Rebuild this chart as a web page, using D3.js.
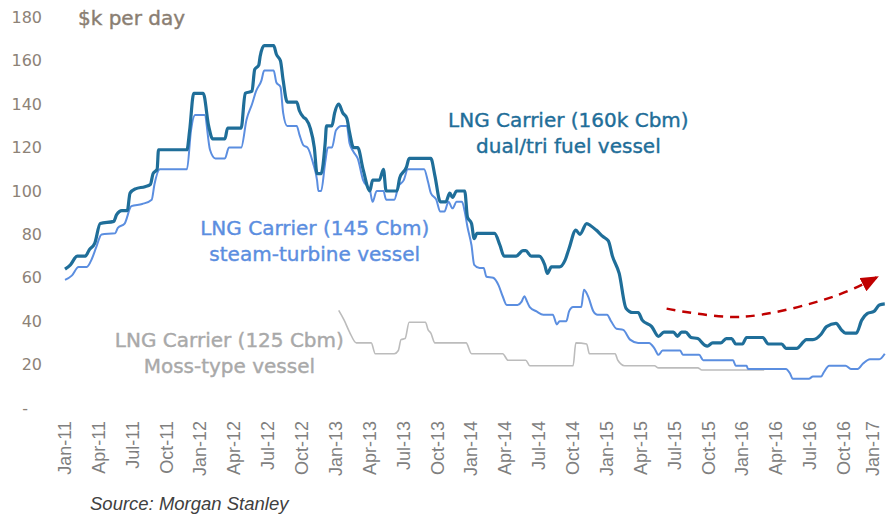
<!DOCTYPE html>
<html lang="en">
<head>
<meta charset="UTF-8">
<title>LNG Carrier day rates</title>
<style>
  body { margin: 0; background: #fff; }
  svg { display: block; }
  .ytick { font-family: "DejaVu Sans", sans-serif; font-size: 16px; fill: #8d8277; }
  .xtick { font-family: "Liberation Sans", Arial, sans-serif; font-size: 18px; fill: #7f7f7f; }
  .note { font-family: "DejaVu Sans", sans-serif; font-size: 20px; }
</style>
</head>
<body>
<svg id="chart" width="886" height="516"></svg>
<script src="https://d3js.org/d3.v7.min.js"></script>
<script>
// x = decimal year, y = $k per day
const dualFuel = [
  [2011.00, 64], [2011.04, 66], [2011.09, 70], [2011.15, 70], [2011.18, 73], [2011.22, 76],
  [2011.26, 85], [2011.36, 86], [2011.38, 89], [2011.42, 91], [2011.46, 91], [2011.48, 99],
  [2011.52, 101], [2011.59, 102], [2011.63, 103], [2011.65, 108], [2011.68, 110], [2011.69, 119],
  [2011.90, 119], [2011.92, 128], [2011.95, 145], [2012.02, 145], [2012.06, 130], [2012.09, 124],
  [2012.18, 124], [2012.20, 129], [2012.30, 129], [2012.33, 145], [2012.38, 146], [2012.40, 156],
  [2012.43, 158], [2012.44, 162], [2012.47, 167], [2012.54, 167], [2012.56, 163], [2012.59, 160],
  [2012.61, 151], [2012.64, 141], [2012.71, 141], [2012.73, 137], [2012.76, 134], [2012.78, 133],
  [2012.81, 129], [2012.84, 120], [2012.86, 108], [2012.89, 108], [2012.92, 122], [2012.93, 130],
  [2012.97, 130], [2012.99, 136], [2013.02, 140], [2013.05, 136], [2013.08, 133.5], [2013.10, 127],
  [2013.13, 120], [2013.16, 120], [2013.20, 110], [2013.25, 100], [2013.27, 105], [2013.32, 105],
  [2013.35, 110], [2013.37, 100], [2013.45, 100], [2013.47, 106], [2013.52, 111], [2013.54, 115],
  [2013.70, 115], [2013.73, 107], [2013.77, 95], [2013.81, 95], [2013.84, 99], [2013.86, 97],
  [2013.89, 100], [2013.95, 100], [2013.97, 88], [2014.00, 85], [2014.02, 78], [2014.04, 80.5],
  [2014.17, 80.5], [2014.21, 75], [2014.24, 70], [2014.33, 70], [2014.38, 72.5], [2014.40, 72.5],
  [2014.44, 70], [2014.50, 70], [2014.54, 66], [2014.56, 62], [2014.59, 65], [2014.65, 65],
  [2014.69, 68], [2014.72, 73.5], [2014.77, 82], [2014.80, 80], [2014.85, 85], [2014.88, 84],
  [2014.92, 82], [2014.97, 79], [2015.01, 77], [2015.04, 70], [2015.09, 62], [2015.14, 46],
  [2015.19, 44], [2015.23, 44], [2015.26, 40.5], [2015.33, 37.5], [2015.38, 33], [2015.42, 35],
  [2015.49, 35], [2015.52, 33], [2015.55, 35], [2015.58, 35], [2015.62, 32.5], [2015.67, 32],
  [2015.72, 29], [2015.74, 28.5], [2015.78, 30], [2015.84, 30], [2015.88, 32], [2015.92, 32],
  [2015.95, 29.5], [2016.00, 29.5], [2016.03, 32.5], [2016.15, 32.5], [2016.19, 29.5], [2016.29, 29.5],
  [2016.32, 27.5], [2016.40, 27.5], [2016.45, 30.5], [2016.47, 31.5], [2016.52, 31.5], [2016.58, 34],
  [2016.62, 37.5], [2016.69, 39], [2016.73, 36], [2016.76, 34.5], [2016.84, 34.5], [2016.88, 40.5],
  [2016.92, 43.5], [2016.97, 44.5], [2017.01, 47.5], [2017.05, 48]
];

const steamTurbine = [
  [2011.00, 59], [2011.05, 61], [2011.10, 65], [2011.16, 65], [2011.20, 69], [2011.23, 74],
  [2011.27, 80], [2011.37, 80.5], [2011.39, 83], [2011.44, 85], [2011.49, 93], [2011.57, 94],
  [2011.64, 96], [2011.66, 103], [2011.70, 110], [2011.90, 110], [2011.93, 128], [2011.96, 135],
  [2012.03, 135], [2012.07, 119], [2012.11, 115], [2012.18, 115], [2012.21, 120], [2012.30, 120],
  [2012.34, 133], [2012.38, 140], [2012.41, 146], [2012.45, 151], [2012.47, 155.5], [2012.54, 155.5],
  [2012.56, 150], [2012.59, 148], [2012.61, 136], [2012.64, 130], [2012.71, 130], [2012.73, 126],
  [2012.76, 121], [2012.79, 120], [2012.83, 113], [2012.86, 105], [2012.87, 100], [2012.89, 100],
  [2012.92, 113], [2012.94, 120], [2012.97, 120], [2013.00, 128], [2013.04, 130], [2013.08, 130],
  [2013.10, 122], [2013.13, 118], [2013.16, 115], [2013.20, 105], [2013.25, 100.5], [2013.27, 95],
  [2013.30, 100], [2013.35, 100], [2013.37, 96], [2013.43, 96], [2013.46, 102], [2013.50, 105],
  [2013.53, 110], [2013.65, 110], [2013.68, 104], [2013.70, 99], [2013.74, 96], [2013.77, 90.5],
  [2013.80, 90.5], [2013.83, 95], [2013.86, 92], [2013.89, 95], [2013.93, 95], [2013.95, 90.5],
  [2013.97, 83.5], [2014.00, 75], [2014.02, 66], [2014.06, 64.5], [2014.09, 64.5], [2014.11, 60.5],
  [2014.16, 60], [2014.20, 56.5], [2014.23, 51.5], [2014.26, 47.5], [2014.34, 47.5], [2014.37, 49],
  [2014.39, 51.5], [2014.41, 49], [2014.43, 46.5], [2014.48, 44.5], [2014.53, 43], [2014.60, 43],
  [2014.63, 38.5], [2014.65, 40], [2014.70, 40], [2014.72, 44.5], [2014.75, 46.5], [2014.81, 46.5],
  [2014.83, 54.5], [2014.86, 51.5], [2014.90, 44.5], [2014.93, 43], [2015.00, 43], [2015.03, 40],
  [2015.07, 36.5], [2015.12, 36], [2015.17, 31.5], [2015.23, 30], [2015.31, 30], [2015.35, 27.5],
  [2015.38, 24.5], [2015.41, 26.5], [2015.54, 26.5], [2015.56, 24.5], [2015.68, 24.5], [2015.71, 22],
  [2015.93, 22], [2015.95, 19.5], [2016.03, 19.5], [2016.04, 18], [2016.32, 18], [2016.35, 16],
  [2016.37, 13.5], [2016.49, 13.5], [2016.52, 14.5], [2016.58, 14.5], [2016.60, 16.5], [2016.64, 19.5],
  [2016.76, 19.5], [2016.80, 18], [2016.85, 18], [2016.89, 20.5], [2016.94, 22.5], [2017.01, 22.5],
  [2017.05, 25]
];

const mossType = [
  [2013.02, 45], [2013.06, 40.5], [2013.10, 35], [2013.15, 30], [2013.26, 30], [2013.29, 25],
  [2013.43, 25], [2013.46, 26.5], [2013.48, 31.5], [2013.51, 32], [2013.54, 39.5], [2013.66, 39.5],
  [2013.68, 36], [2013.70, 34.5], [2013.73, 30], [2013.96, 30], [2014.00, 25], [2014.23, 25],
  [2014.27, 22], [2014.40, 22], [2014.43, 19.5], [2014.75, 19.5], [2014.77, 30], [2014.85, 29.5],
  [2014.87, 25], [2015.06, 25], [2015.08, 22], [2015.13, 19.5], [2015.35, 19.5], [2015.38, 18.5],
  [2015.67, 18.5], [2015.70, 17.5], [2016.16, 17.5]
];

// dashed "recovery" arrow, in the same data units
const trendArrow = [[2015.44, 45.8], [2015.99, 42], [2016.67, 51.3], [2017.0, 60.5]];

const xTickLabels = [
  'Jan-11', 'Apr-11', 'Jul-11', 'Oct-11', 'Jan-12', 'Apr-12', 'Jul-12', 'Oct-12',
  'Jan-13', 'Apr-13', 'Jul-13', 'Oct-13', 'Jan-14', 'Apr-14', 'Jul-14', 'Oct-14',
  'Jan-15', 'Apr-15', 'Jul-15', 'Oct-15', 'Jan-16', 'Apr-16', 'Jul-16', 'Oct-16', 'Jan-17'
];
const xTickValues = xTickLabels.map((d, i) => 2011 + i / 4);
const yTickValues = [0, 20, 40, 60, 80, 100, 120, 140, 160, 180];

const svg = d3.select('#chart');

const x = d3.scaleLinear().domain([2011, 2017]).range([65, 878]);
const y = d3.scaleLinear().domain([0, 180]).range([408, 17.4]);

// y axis: labels only
const yAxis = svg.append('g')
  .attr('transform', 'translate(44,0)')
  .call(d3.axisLeft(y).tickValues(yTickValues).tickSize(0).tickPadding(2)
    .tickFormat(d => d === 0 ? '-' : d));
yAxis.select('.domain').remove();
yAxis.selectAll('text')
  .attr('class', 'ytick')
  .attr('font-family', null).attr('font-size', null).attr('fill', null)
  .attr('dx', d => d === 0 ? -14 : 0);

// x axis: quarterly labels rotated
const xAxis = svg.append('g')
  .attr('transform', `translate(0,${y(0)})`)
  .call(d3.axisBottom(x).tickValues(xTickValues).tickSize(0)
    .tickFormat((d, i) => xTickLabels[i]));
xAxis.select('.domain').remove();
xAxis.selectAll('text')
  .attr('class', 'xtick')
  .attr('font-family', null).attr('font-size', null).attr('fill', null)
  .attr('transform', 'rotate(-90)')
  .attr('text-anchor', 'end')
  .attr('x', -13).attr('y', 0)
  // last label sits on the right edge, nudge it in a little
  .attr('dy', (d, i) => i === xTickLabels.length - 1 ? '0.05em' : '0.3em');

svg.append('text')
  .attr('x', 78).attr('y', 25)
  .attr('class', 'note')
  .attr('fill', '#8a7e72')
  .attr('stroke', '#8a7e72').attr('stroke-width', 0.4)
  .text('$k per day');

const line = d3.line()
  .x(d => x(d[0]))
  .y(d => y(d[1]))
  .curve(d3.curveMonotoneX);

svg.append('path').datum(mossType)
  .attr('fill', 'none').attr('stroke', '#bcbcbc').attr('stroke-width', 1.6)
  .attr('stroke-linejoin', 'round').attr('d', line);

svg.append('path').datum(steamTurbine)
  .attr('fill', 'none').attr('stroke', '#5b8ee0').attr('stroke-width', 2)
  .attr('stroke-linejoin', 'round').attr('d', line);

svg.append('path').datum(dualFuel)
  .attr('fill', 'none').attr('stroke', '#1f6e99').attr('stroke-width', 3.2)
  .attr('stroke-linejoin', 'round').attr('d', line);

// arrow
svg.append('defs').append('marker')
  .attr('id', 'head')
  .attr('markerUnits', 'userSpaceOnUse')
  .attr('markerWidth', 18).attr('markerHeight', 16)
  .attr('refX', 17).attr('refY', 7.5)
  .attr('orient', 'auto')
  .append('path')
  .attr('d', 'M0,0 L18,7.5 L0,15 Z')
  .attr('fill', '#c00000');

svg.append('path').datum(trendArrow)
  .attr('fill', 'none').attr('stroke', '#c00000').attr('stroke-width', 2.5)
  .attr('stroke-dasharray', '9,7')
  .attr('marker-end', 'url(#head)')
  .attr('d', d3.line().x(d => x(d[0])).y(d => y(d[1])).curve(d3.curveCatmullRom));

// series labels
const notes = [
  { at: [2014.715, 129.4], color: '#1f6e99', lines: ['LNG Carrier (160k Cbm)', 'dual/tri fuel vessel'] },
  { at: [2012.843, 79.7], color: '#5b8ee0', lines: ['LNG Carrier (145 Cbm)', 'steam-turbine vessel'] },
  { at: [2012.213, 28.1], color: '#a9a9a9', lines: ['LNG Carrier (125 Cbm)', 'Moss-type vessel'] }
];
notes.forEach(n => {
  const t = svg.append('text')
    .attr('class', 'note')
    .attr('text-anchor', 'middle')
    .attr('fill', n.color)
    .attr('stroke', n.color).attr('stroke-width', 0.4);
  n.lines.forEach((s, i) => {
    t.append('tspan')
      .attr('x', x(n.at[0]))
      .attr('y', y(n.at[1]) + i * 26)
      .text(s);
  });
});

svg.append('text')
  .attr('x', 90).attr('y', 510)
  .attr('font-family', '"Liberation Sans", Arial, sans-serif')
  .attr('font-size', 18.5)
  .attr('font-style', 'italic')
  .attr('fill', '#404040')
  .text('Source: Morgan Stanley');
</script>
</body>
</html>
